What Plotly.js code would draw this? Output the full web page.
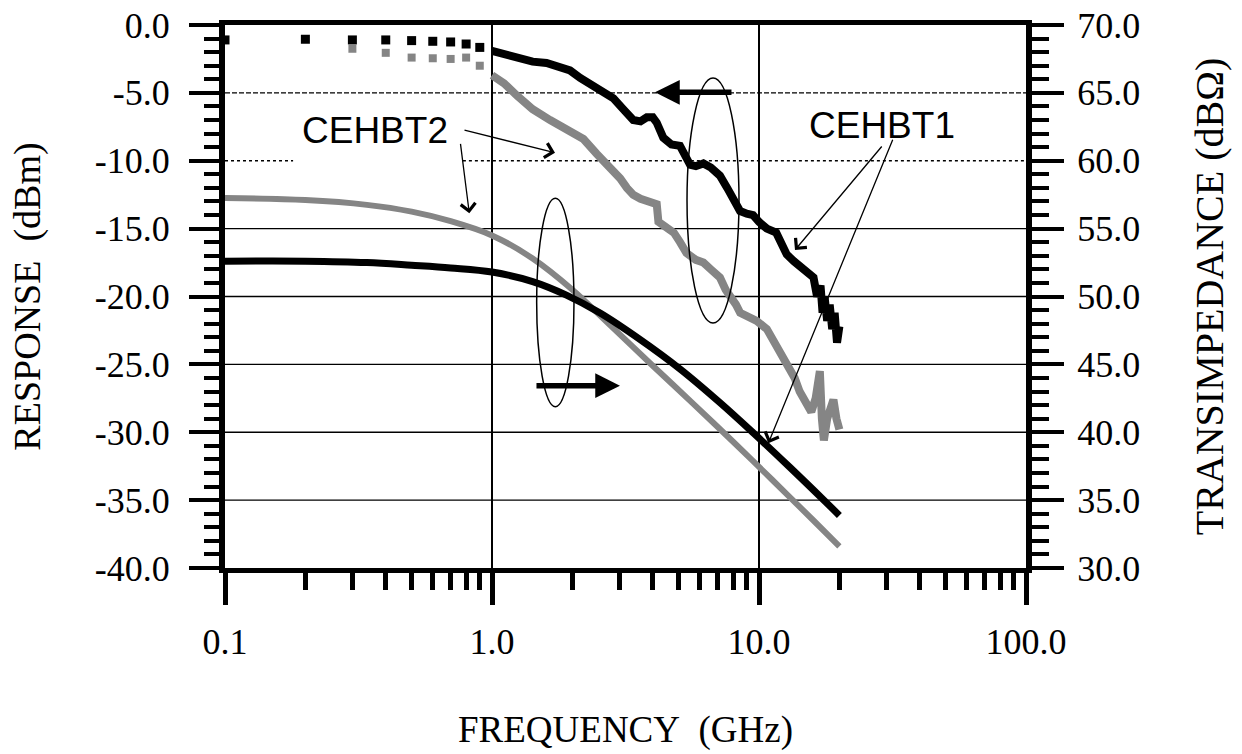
<!DOCTYPE html>
<html>
<head>
<meta charset="utf-8">
<script src="https://cdn.plot.ly/plotly-3.0.1.min.js"></script>
<style>html,body{margin:0;padding:0;background:#fff;}#chart{width:1242px;height:754px;}</style>
</head>
<body>
<div id="chart"></div>
<script>
// ---- Data ----
// CEHBT1 response (left axis, dBm): sparse low-frequency points
const h1SparseF = [0.1, 0.2, 0.3, 0.4, 0.5, 0.6, 0.7, 0.8, 0.9];
const h1SparseR = [-1.1, -1.05, -1.1, -1.1, -1.15, -1.2, -1.25, -1.4, -1.65];
// CEHBT1 response, dense part
const h1F = [1.0, 1.13, 1.27, 1.42, 1.6, 1.8, 1.96, 2.14, 2.5, 2.85, 3.1, 3.38, 3.6, 3.8, 4.0, 4.14, 4.38, 4.7, 5.06, 5.3, 5.52, 5.8, 6.19, 6.6, 7.14, 7.6, 8.0, 8.49, 9.0, 9.5, 10.0, 10.7, 11.6, 12.2, 12.7, 13.5, 14.2, 15.0, 16.0, 16.5, 17.0, 17.3, 17.6, 18.0, 18.4, 18.8, 19.2, 19.6, 20.0];
const h1R = [-1.9, -2.2, -2.55, -2.7, -2.8, -3.05, -3.35, -3.9, -4.7, -5.4, -6.2, -7.0, -7.1, -6.8, -6.8, -7.2, -8.3, -8.8, -8.9, -9.6, -10.3, -10.4, -10.2, -10.5, -11.1, -12.0, -12.8, -13.7, -13.9, -14.0, -14.5, -15.0, -15.3, -16.2, -16.9, -17.4, -17.8, -18.2, -18.6, -20.0, -19.2, -21.2, -20.0, -21.8, -20.6, -22.4, -21.2, -23.4, -22.2];
// CEHBT2 response (left axis, dBm): sparse points
const h2SparseF = [0.3, 0.4, 0.5, 0.6, 0.7, 0.8, 0.9];
const h2SparseR = [-1.75, -2.05, -2.4, -2.45, -2.5, -2.4, -3.0];
// CEHBT2 response, dense part
const h2F = [1.0, 1.11, 1.24, 1.42, 1.65, 1.9, 2.2, 2.47, 2.75, 3.02, 3.2, 3.38, 3.6, 3.8, 4.0, 4.14, 4.2, 4.5, 4.8, 5.06, 5.35, 5.8, 6.19, 6.6, 7.14, 7.5, 7.8, 8.2, 8.5, 9.0, 9.8, 10.7, 11.3, 11.9, 12.5, 13.0, 13.6, 14.2, 15.0, 15.7, 16.3, 16.9, 17.2, 17.5, 18.0, 18.5, 19.0, 19.5, 20.0];
const h2R = [-3.7, -4.3, -5.2, -6.2, -7.0, -7.7, -8.4, -9.5, -10.4, -11.3, -12.0, -12.5, -12.8, -12.9, -13.0, -13.2, -14.5, -15.0, -15.3, -16.0, -16.8, -17.3, -17.5, -18.0, -18.6, -19.5, -19.9, -20.6, -21.2, -21.4, -21.8, -22.4, -23.2, -24.0, -24.8, -25.5, -26.0, -27.0, -27.8, -28.5, -27.5, -25.5, -29.0, -30.6, -29.0, -28.2, -27.6, -29.0, -29.8];
// Transimpedance (right axis, dBOhm)
const z1F = [0.1, 0.2, 0.34, 0.5, 0.7, 1.0, 1.42, 1.9, 2.54, 3.58, 5.06, 7.14, 9.5, 13.0, 17.7, 20.0];
const z1 = [52.6, 52.6, 52.5, 52.3, 52.1, 51.8, 51.1, 50.1, 48.78, 46.84, 44.66, 42.18, 39.97, 37.45, 34.9, 33.87];
const z2F = [0.1, 0.2, 0.34, 0.5, 0.7, 1.0, 1.42, 2.0, 2.8, 4.0, 5.6, 8.0, 11.2, 16.0, 20.0];
const z2 = [57.25, 57.1, 56.75, 56.25, 55.55, 54.5, 52.8, 50.5, 47.8, 44.9, 42.2, 39.3, 36.5, 33.5, 31.6];

// Tick labels
const xTickVals = [0.1, 1, 10, 100];
const xTickText = ['0.1', '1.0', '10.0', '100.0'];
const xMinorVals = [0.2,0.3,0.4,0.5,0.6,0.7,0.8,0.9, 2,3,4,5,6,7,8,9, 20,30,40,50,60,70,80,90];
const yTickVals = [0, -5, -10, -15, -20, -25, -30, -35, -40];
const yTickText = ['0.0', '-5.0', '-10.0', '-15.0', '-20.0', '-25.0', '-30.0', '-35.0', '-40.0'];
const y2TickVals = [70, 65, 60, 55, 50, 45, 40, 35, 30];
const y2TickText = ['70.0', '65.0', '60.0', '55.0', '50.0', '45.0', '40.0', '35.0', '30.0'];
const gridVals = [-5, -10, -15, -20, -25, -30, -35];

const BLACK = '#000';
const GRAY = '#858585';
const serif = 'Liberation Serif, Times New Roman, serif';
const sans = 'Liberation Sans, Arial, sans-serif';

const traces = [
  {x: z2F, y: z2, yaxis: 'y2', mode: 'lines', line: {color: GRAY, width: 6, shape: 'spline', smoothing: 1}, hoverinfo: 'skip'},
  {x: z1F, y: z1, yaxis: 'y2', mode: 'lines', line: {color: BLACK, width: 7, shape: 'spline', smoothing: 1}, hoverinfo: 'skip'},
  {x: h2F, y: h2R, mode: 'lines', line: {color: GRAY, width: 8}, hoverinfo: 'skip'},
  {x: h2SparseF, y: h2SparseR, mode: 'markers', marker: {symbol: 'square', size: 8, color: GRAY}, hoverinfo: 'skip'},
  {x: h1F, y: h1R, mode: 'lines', line: {color: BLACK, width: 8}, hoverinfo: 'skip'},
  {x: h1SparseF, y: h1SparseR, mode: 'markers', marker: {symbol: 'square', size: 9, color: BLACK}, hoverinfo: 'skip'}
];

const dashFor = {'-5': '5px,2px', '-10': 'dot'};
const shapes = [];
gridVals.forEach(v => {
  const d = dashFor[String(v)] || 'solid';
  if (v === -10) {
    shapes.push({type: 'line', xref: 'paper', yref: 'y', x0: 0, x1: 0.085, y0: v, y1: v, line: {color: BLACK, width: 1.4, dash: d}, layer: 'below'});
    shapes.push({type: 'line', xref: 'paper', yref: 'y', x0: 0.297, x1: 1, y0: v, y1: v, line: {color: BLACK, width: 1.4, dash: d}, layer: 'below'});
  } else {
    shapes.push({type: 'line', xref: 'paper', yref: 'y', x0: 0, x1: 1, y0: v, y1: v, line: {color: BLACK, width: 1.4, dash: d}, layer: 'below'});
  }
});
// ellipses grouping the curves
shapes.push({type: 'circle', xref: 'paper', yref: 'paper', x0: 0.5768, x1: 0.6417, y0: 0.4512, y1: 0.9024, line: {color: BLACK, width: 1.5}});
shapes.push({type: 'circle', xref: 'paper', yref: 'paper', x0: 0.3891, x1: 0.4357, y0: 0.2971, y1: 0.6809, line: {color: BLACK, width: 1.5}});

const thin = {showarrow: true, arrowhead: 4, arrowsize: 2.2, arrowwidth: 1.3, arrowcolor: BLACK, xref: 'paper', yref: 'paper', text: '', standoff: 0};
const thick = {showarrow: true, arrowhead: 2, arrowsize: 0.9, arrowwidth: 5.5, arrowcolor: BLACK, xref: 'paper', yref: 'paper', text: '', standoff: 0};
const annotations = [
  {text: 'CEHBT2', x: 0.1873, y: 0.8048, xref: 'paper', yref: 'paper', showarrow: false, xanchor: 'center', yanchor: 'middle', font: {family: sans, size: 37, color: BLACK}},
  {text: 'CEHBT1', x: 0.8202, y: 0.8158, xref: 'paper', yref: 'paper', showarrow: false, xanchor: 'center', yanchor: 'middle', font: {family: sans, size: 37, color: BLACK}},
  Object.assign({}, thin, {x: 0.412, y: 0.7648, ax: -92, ay: -23}),
  Object.assign({}, thin, {x: 0.305, y: 0.6532, ax: -9, ay: -71}),
  Object.assign({}, thin, {x: 0.7116, y: 0.5856, ax: 88, ay: -105}),
  Object.assign({}, thin, {x: 0.6783, y: 0.2297, ax: 125, ay: -305}),
  Object.assign({}, thick, {x: 0.5368, y: 0.8761, ax: 78, ay: 0}),
  Object.assign({}, thick, {x: 0.4931, y: 0.3357, ax: -85, ay: 0})
];

const tickFont = {family: serif, size: 36, color: BLACK};

const layout = {
  width: 1242, height: 754,
  margin: {l: 225, r: 216, t: 25, b: 186},
  paper_bgcolor: '#fff', plot_bgcolor: '#fff',
  showlegend: false,
  xaxis: {
    type: 'log', range: [-1, 2],
    tickmode: 'array', tickvals: xTickVals, ticktext: xTickText,
    ticks: 'outside', ticklen: 32, tickwidth: 5, tickcolor: BLACK,
    minor: {tickmode: 'array', tickvals: xMinorVals, ticks: 'outside', ticklen: 17, tickwidth: 5, tickcolor: BLACK, showgrid: false},
    showline: true, linewidth: 5, linecolor: BLACK, mirror: true,
    showgrid: true, gridcolor: BLACK, gridwidth: 1.3,
    zeroline: false, tickfont: tickFont, ticklabelstandoff: 6,
    title: {text: 'FREQUENCY\u00a0\u00a0(GHz)', font: {family: serif, size: 37, color: BLACK}, standoff: 56}
  },
  yaxis: {
    range: [-40, 0], tickmode: 'array', tickvals: yTickVals, ticktext: yTickText,
    ticks: 'outside', ticklen: 30, tickwidth: 4, tickcolor: BLACK,
    minor: {dtick: 1, ticks: 'outside', ticklen: 15, tickwidth: 4, tickcolor: BLACK, showgrid: false},
    showline: true, linewidth: 6, linecolor: BLACK,
    showgrid: false, zeroline: false, tickfont: tickFont, ticklabelstandoff: 12,
    title: {text: 'RESPONSE\u00a0\u00a0(dBm)', font: {family: serif, size: 38, color: BLACK}, standoff: 44}
  },
  yaxis2: {
    overlaying: 'y', side: 'right',
    range: [30, 70], tickmode: 'array', tickvals: y2TickVals, ticktext: y2TickText,
    ticks: 'outside', ticklen: 32, tickwidth: 4, tickcolor: BLACK,
    minor: {dtick: 1, ticks: 'outside', ticklen: 17, tickwidth: 4, tickcolor: BLACK, showgrid: false},
    showline: true, linewidth: 6, linecolor: BLACK,
    showgrid: false, zeroline: false, tickfont: tickFont, ticklabelstandoff: 6,
    title: {text: 'TRANSIMPEDANCE (dB\u03A9)', font: {family: serif, size: 40, color: BLACK}, standoff: 58}
  },
  shapes: shapes,
  annotations: annotations
};

Plotly.newPlot('chart', traces, layout, {staticPlot: true, displayModeBar: false});
</script>
</body>
</html>
